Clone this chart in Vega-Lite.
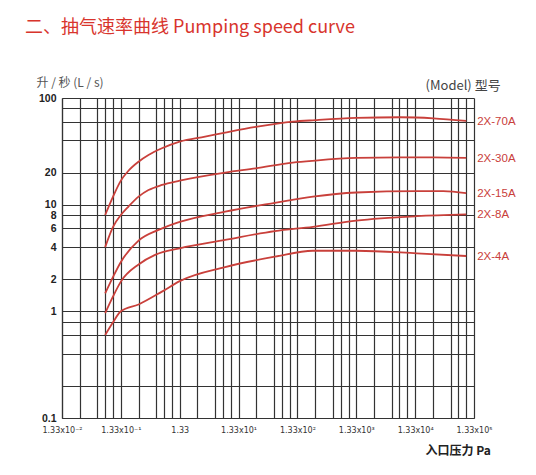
{
  "$schema": "https://vega.github.io/schema/vega-lite/v6.json",
  "autosize": "none",
  "padding": {"left": 62, "top": 98, "right": 62, "bottom": 57},
  "width": 412,
  "height": 320,
  "background": "white",
  "title": {
    "text": "二、抽气速率曲线 Pumping speed curve",
    "anchor": "start",
    "frame": "group",
    "dx": -37,
    "dy": -35,
    "font": "Noto Sans CJK SC",
    "fontSize": 18,
    "fontWeight": "normal",
    "color": "#d8342c"
  },
  "config": {"view": {"stroke": null}},
  "datasets": {
    "curves": [
      {"model": "2X-70A", "p": 0.072, "s": 8},
      {"model": "2X-70A", "p": 0.098, "s": 11.9},
      {"model": "2X-70A", "p": 0.133, "s": 16.8},
      {"model": "2X-70A", "p": 0.179, "s": 20.8},
      {"model": "2X-70A", "p": 0.266, "s": 25.3},
      {"model": "2X-70A", "p": 0.392, "s": 29.2},
      {"model": "2X-70A", "p": 0.663, "s": 33.8},
      {"model": "2X-70A", "p": 1.33, "s": 39},
      {"model": "2X-70A", "p": 3.59, "s": 43.4},
      {"model": "2X-70A", "p": 7.86, "s": 47.3},
      {"model": "2X-70A", "p": 26, "s": 53.5},
      {"model": "2X-70A", "p": 111, "s": 60},
      {"model": "2X-70A", "p": 268, "s": 62},
      {"model": "2X-70A", "p": 1330, "s": 65},
      {"model": "2X-70A", "p": 7400, "s": 66},
      {"model": "2X-70A", "p": 27200, "s": 64.5},
      {"model": "2X-70A", "p": 98000, "s": 61},
      {"model": "2X-30A", "p": 0.072, "s": 4},
      {"model": "2X-30A", "p": 0.098, "s": 6.2},
      {"model": "2X-30A", "p": 0.133, "s": 8},
      {"model": "2X-30A", "p": 0.179, "s": 9.6},
      {"model": "2X-30A", "p": 0.266, "s": 11.9},
      {"model": "2X-30A", "p": 0.392, "s": 13.7},
      {"model": "2X-30A", "p": 0.663, "s": 15.3},
      {"model": "2X-30A", "p": 1.33, "s": 16.8},
      {"model": "2X-30A", "p": 7.86, "s": 20},
      {"model": "2X-30A", "p": 26, "s": 21.9},
      {"model": "2X-30A", "p": 111, "s": 24.8},
      {"model": "2X-30A", "p": 268, "s": 25.9},
      {"model": "2X-30A", "p": 1330, "s": 27.4},
      {"model": "2X-30A", "p": 7400, "s": 27.8},
      {"model": "2X-30A", "p": 27200, "s": 27.8},
      {"model": "2X-30A", "p": 98000, "s": 27.5},
      {"model": "2X-15A", "p": 0.072, "s": 1.47},
      {"model": "2X-15A", "p": 0.098, "s": 2.1},
      {"model": "2X-15A", "p": 0.133, "s": 2.9},
      {"model": "2X-15A", "p": 0.266, "s": 4.6},
      {"model": "2X-15A", "p": 0.58, "s": 5.8},
      {"model": "2X-15A", "p": 1.33, "s": 6.9},
      {"model": "2X-15A", "p": 7.86, "s": 8.6},
      {"model": "2X-15A", "p": 55, "s": 10.4},
      {"model": "2X-15A", "p": 244, "s": 11.9},
      {"model": "2X-15A", "p": 1330, "s": 13},
      {"model": "2X-15A", "p": 14200, "s": 13.4},
      {"model": "2X-15A", "p": 40200, "s": 13.4},
      {"model": "2X-15A", "p": 98000, "s": 12.8},
      {"model": "2X-8A", "p": 0.072, "s": 0.96},
      {"model": "2X-8A", "p": 0.098, "s": 1.38},
      {"model": "2X-8A", "p": 0.133, "s": 1.9},
      {"model": "2X-8A", "p": 0.266, "s": 2.75},
      {"model": "2X-8A", "p": 0.508, "s": 3.38},
      {"model": "2X-8A", "p": 1.33, "s": 3.9},
      {"model": "2X-8A", "p": 7.86, "s": 4.67},
      {"model": "2X-8A", "p": 55, "s": 5.65},
      {"model": "2X-8A", "p": 244, "s": 6.2},
      {"model": "2X-8A", "p": 1330, "s": 7.1},
      {"model": "2X-8A", "p": 14200, "s": 7.8},
      {"model": "2X-8A", "p": 98000, "s": 8.1},
      {"model": "2X-4A", "p": 0.072, "s": 0.6},
      {"model": "2X-4A", "p": 0.098, "s": 0.79},
      {"model": "2X-4A", "p": 0.133, "s": 1.0},
      {"model": "2X-4A", "p": 0.266, "s": 1.16},
      {"model": "2X-4A", "p": 0.663, "s": 1.53},
      {"model": "2X-4A", "p": 1.33, "s": 1.92},
      {"model": "2X-4A", "p": 7.86, "s": 2.6},
      {"model": "2X-4A", "p": 55, "s": 3.25},
      {"model": "2X-4A", "p": 244, "s": 3.7},
      {"model": "2X-4A", "p": 1330, "s": 3.7},
      {"model": "2X-4A", "p": 14200, "s": 3.5},
      {"model": "2X-4A", "p": 98000, "s": 3.3}
    ],
    "notes": [
      {"text": "(Model) 型号"}
    ]
  },
  "layer": [
    {
      "data": {"name": "curves"},
      "mark": {"type": "line", "interpolate": "monotone", "color": "#c9403b", "strokeWidth": 1.8},
      "encoding": {
        "x": {
          "field": "p",
          "type": "quantitative",
          "scale": {"type": "log", "domain": [0.0133, 133000], "nice": false},
          "axis": {
            "values": [0.0133, 0.0266, 0.0532, 0.0718, 0.0984, 0.133, 0.266, 0.532, 0.718, 0.984, 1.33, 2.66, 5.32, 7.18, 9.84, 13.3, 26.6, 53.2, 71.8, 98.4, 133, 266, 532, 718, 984, 1330, 2660, 5320, 7180, 9840, 13300, 26600, 53200, 71800, 98400, 133000],
            "labelExpr": "datum.value == 0.0133 ? '1.33x10⁻²' : datum.value == 0.133 ? '1.33x10⁻¹' : datum.value == 1.33 ? '1.33' : datum.value == 13.3 ? '1.33x10¹' : datum.value == 133 ? '1.33x10²' : datum.value == 1330 ? '1.33x10³' : datum.value == 13300 ? '1.33x10⁴' : datum.value == 133000 ? '1.33x10⁵' : ''",
            "labelOverlap": false,
            "labelFlush": false,
            "labelFont": "DejaVu Sans",
            "labelFontSize": 8,
            "labelColor": "#333",
            "labelPadding": 8,
            "ticks": false,
            "grid": true,
            "gridColor": "#333",
            "gridWidth": 1.2,
            "gridOpacity": 1,
            "domainColor": "#333",
            "domainWidth": 1.2,
            "title": "入口压力 Pa",
            "titleFont": "Noto Sans CJK SC",
            "titleFontSize": 12,
            "titleFontWeight": "bold",
            "titleColor": "#222",
            "titleAlign": "left",
            "titleBaseline": "middle",
            "titleX": 363,
            "titleY": 32
          }
        },
        "y": {
          "field": "s",
          "type": "quantitative",
          "scale": {"type": "log", "domain": [0.1, 100], "nice": false},
          "axis": {
            "values": [0.1, 0.2, 0.4, 0.6, 0.8, 1, 2, 4, 6, 8, 10, 20, 40, 60, 80, 100],
            "labelExpr": "indexof([0.1, 1, 2, 4, 6, 8, 10, 20, 100], datum.value) >= 0 ? '' + datum.value : ''",
            "labelOverlap": false,
            "labelFlush": false,
            "labelFont": "Liberation Sans",
            "labelFontSize": 10.5,
            "labelFontWeight": "bold",
            "labelColor": "#222",
            "labelPadding": 6,
            "ticks": false,
            "grid": true,
            "gridColor": "#333",
            "gridWidth": 1.2,
            "gridOpacity": 1,
            "domainColor": "#333",
            "domainWidth": 1.2,
            "title": "升 / 秒   (L / s)",
            "titleAngle": 0,
            "titleFont": "Noto Sans CJK SC",
            "titleFontSize": 12,
            "titleFontWeight": "normal",
            "titleColor": "#555",
            "titleAlign": "left",
            "titleBaseline": "middle",
            "titleX": -26,
            "titleY": -16
          }
        },
        "detail": {"field": "model", "type": "nominal"}
      }
    },
    {
      "data": {"name": "curves"},
      "transform": [{"filter": "datum.p == 98000"}],
      "mark": {"type": "text", "align": "left", "baseline": "middle", "dx": 11, "dy": 1, "font": "Liberation Sans", "fontSize": 11.5, "color": "#c9403b"},
      "encoding": {
        "x": {"field": "p", "type": "quantitative"},
        "y": {"field": "s", "type": "quantitative"},
        "text": {"field": "model"}
      }
    },
    {
      "data": {"name": "notes"},
      "mark": {"type": "text", "align": "left", "baseline": "middle", "font": "Noto Sans CJK SC", "fontSize": 13, "color": "#444"},
      "encoding": {
        "x": {"datum": 20000},
        "y": {"datum": 130},
        "text": {"field": "text"}
      }
    }
  ]
}
